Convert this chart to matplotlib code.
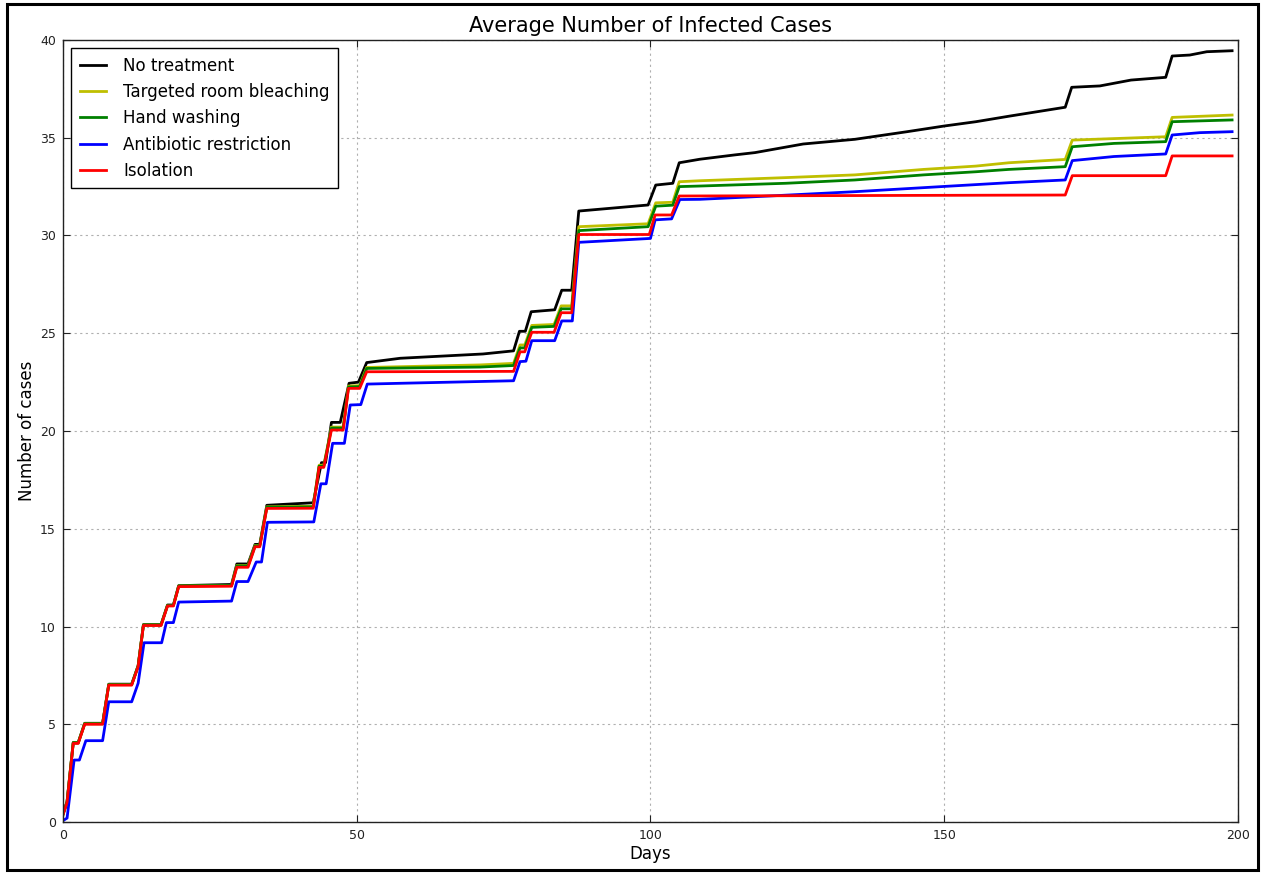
import matplotlib
matplotlib.use("Agg")
import matplotlib.pyplot as plt
from matplotlib.patches import Rectangle

# values (day, average infected cases)
black_days = [0, 0.7, 1.75, 2.6, 3.7, 6.75, 7.8, 11.7, 12.8, 13.7, 16.7, 17.8, 18.8, 19.7, 28.7,
              29.6, 31.5, 32.7, 33.5, 34.7, 42.6, 44.0, 44.7, 45.7, 47.2, 48.7, 50.3, 51.7, 57.4,
              71.5, 76.7, 77.7, 78.7, 79.7, 83.7, 84.9, 86.6, 87.8, 99.6, 100.9, 103.8, 104.9,
              108.4, 114.3, 117.8, 126, 134.8, 143.7, 150, 155.4, 161.2, 170.6, 171.7, 176.5,
              181.8, 187.7, 188.8, 191.8, 194.7, 199]
black_vals = [0.4, 1.05, 4.07, 4.07, 5.05, 5.05, 7.05, 7.05, 8.0, 10.1, 10.1, 11.1, 11.1, 12.09, 12.15,
              13.2, 13.2, 14.2, 14.2, 16.2, 16.33, 18.38, 18.38, 20.44, 20.44, 22.44, 22.5, 23.5, 23.72,
              23.94, 24.1, 25.1, 25.1, 26.1, 26.2, 27.2, 27.2, 31.25, 31.56, 32.58, 32.67, 33.72,
              33.9, 34.12, 34.24, 34.68, 34.92, 35.31, 35.6, 35.82, 36.11, 36.56, 37.58, 37.65,
              37.95, 38.09, 39.18, 39.23, 39.4, 39.45]

yellow_days = [0, 0.7, 1.75, 2.6, 3.7, 6.75, 7.8, 11.7, 12.8, 13.7, 16.7, 17.8, 18.8, 19.7, 28.7,
               29.6, 31.5, 32.7, 33.5, 34.7, 42.6, 43.6, 44.4, 45.7, 47.7, 48.6, 50.5, 51.7, 71,
               76.7, 77.8, 78.6, 79.8, 83.6, 84.8, 86.6, 87.8, 99.6, 100.9, 103.8, 104.9, 108.4,
               123, 134.8, 146.5, 155.4, 161, 170.6, 171.8, 187.7, 188.8, 199]
yellow_vals = [0.38, 1.03, 4.05, 4.05, 5.03, 5.03, 7.03, 7.03, 7.98, 10.08, 10.08, 11.08, 11.08, 12.07, 12.1,
               13.12, 13.12, 14.15, 14.15, 16.12, 16.15, 18.25, 18.25, 20.2, 20.2, 22.3, 22.32, 23.25, 23.38,
               23.46, 24.4, 24.4, 25.4, 25.45, 26.4, 26.4, 30.45, 30.6, 31.67, 31.7, 32.75, 32.8,
               32.96, 33.1, 33.38, 33.55, 33.72, 33.89, 34.88, 35.05, 36.04, 36.16]

green_days = [0, 0.7, 1.75, 2.6, 3.7, 6.75, 7.8, 11.7, 12.8, 13.7, 16.7, 17.8, 18.8, 19.7, 28.7,
              29.6, 31.5, 32.7, 33.5, 34.7, 42.6, 43.6, 44.4, 45.7, 47.7, 48.6, 50.5, 51.7, 71,
              76.7, 77.8, 78.6, 79.8, 83.6, 84.8, 86.6, 87.8, 99.6, 100.9, 103.8, 104.9, 108.4,
              123, 134.8, 146.5, 155.4, 161, 170.6, 171.8, 178.9, 187.7, 188.8, 199]
green_vals = [0.38, 1.03, 4.05, 4.05, 5.03, 5.03, 7.03, 7.03, 7.98, 10.08, 10.08, 11.08, 11.08, 12.07, 12.1,
              13.1, 13.1, 14.13, 14.13, 16.1, 16.12, 18.2, 18.2, 20.15, 20.15, 22.25, 22.27, 23.2, 23.27,
              23.35, 24.25, 24.25, 25.3, 25.35, 26.25, 26.25, 30.25, 30.45, 31.5, 31.55, 32.5, 32.53,
              32.67, 32.84, 33.1, 33.26, 33.38, 33.52, 34.54, 34.71, 34.8, 35.82, 35.91]

blue_days = [0, 0.7, 1.9, 2.8, 3.9, 6.75, 7.8, 11.7, 12.8, 13.8, 16.8, 17.6, 18.8, 19.7, 28.7,
             29.6, 31.5, 32.9, 33.8, 34.8, 42.7, 43.9, 44.8, 45.9, 47.9, 48.9, 50.7, 51.8, 57.4,
             76.7, 77.8, 78.8, 79.8, 83.7, 84.9, 86.7, 87.8, 100, 100.8, 103.6, 105, 108.4,
             120.2, 134.8, 149.5, 161, 170.6, 171.8, 178.9, 187.7, 188.8, 193.5, 199]
blue_vals = [0.07, 0.2, 3.17, 3.17, 4.16, 4.16, 6.15, 6.15, 7.1, 9.17, 9.17, 10.2, 10.2, 11.25, 11.3,
             12.3, 12.3, 13.3, 13.3, 15.33, 15.35, 17.3, 17.3, 19.37, 19.37, 21.33, 21.35, 22.4, 22.44,
             22.57, 23.55, 23.57, 24.62, 24.62, 25.63, 25.63, 29.65, 29.85, 30.8, 30.85, 31.84, 31.85,
             32.02, 32.24, 32.5, 32.7, 32.84, 33.83, 34.04, 34.17, 35.14, 35.26, 35.31]

red_days = [0, 0.7, 1.75, 2.6, 3.7, 6.75, 7.8, 11.7, 12.8, 13.7, 16.7, 17.8, 18.8, 19.7, 28.7,
            29.6, 31.5, 32.7, 33.5, 34.7, 42.6, 43.6, 44.4, 45.7, 47.7, 48.6, 50.5, 51.7, 76.7,
            77.8, 78.6, 79.8, 83.6, 84.8, 86.6, 87.8, 99.8, 100.8, 103.6, 104.9, 170.6, 171.8,
            187.7, 188.8, 199]
red_vals = [0.36, 1.0, 4.02, 4.02, 5.0, 5.0, 7.0, 7.0, 7.95, 10.05, 10.05, 11.05, 11.05, 12.04, 12.06,
            13.03, 13.03, 14.08, 14.08, 16.04, 16.05, 18.14, 18.14, 20.05, 20.05, 22.18, 22.18, 23.03, 23.05,
            24.05, 24.05, 25.05, 25.05, 26.05, 26.05, 30.05, 30.05, 31.05, 31.05, 32.02, 32.07, 33.06,
            33.06, 34.07, 34.07]

labels = ["No treatment", "Targeted room bleaching", "Hand washing",
          "Antibiotic restriction", "Isolation"]
x_ticks = [0, 50, 100, 150, 200]
y_ticks = [0, 5, 10, 15, 20, 25, 30, 35, 40]

plt.rcParams['font.family'] = ['DejaVu Sans']

fig = plt.figure(figsize=(12.64, 8.73), dpi=100, facecolor='white')
ax = fig.add_axes([0.0498, 0.0584, 0.9296, 0.8958])

ax.plot(black_days, black_vals, color='k', lw=2, label=labels[0])
ax.plot(yellow_days, yellow_vals, color='#bfbf00', lw=2, label=labels[1])
ax.plot(green_days, green_vals, color='#008000', lw=2, label=labels[2])
ax.plot(blue_days, blue_vals, color='#0000ff', lw=2, label=labels[3])
ax.plot(red_days, red_vals, color='#ff0000', lw=2, label=labels[4])

ax.set_xlim(0, 200)
ax.set_ylim(0, 40)
ax.set_xticks(x_ticks)
ax.set_yticks(y_ticks)
ax.tick_params(direction='in', top=True, right=True, length=5, width=0.8,
               labelsize=9, pad=5, colors='#222222')
ax.grid(True, color='#b0b0b0', linestyle=(0, (2, 3)), linewidth=0.8)
for s in ax.spines.values():
    s.set_linewidth(1.0)
    s.set_color('#222222')

ax.set_title("Average Number of Infected Cases", fontsize=15, pad=6)
ax.set_xlabel("Days", fontsize=12, labelpad=2)
ax.set_ylabel("Number of cases", fontsize=12, labelpad=3)

leg = ax.legend(loc='upper left', fontsize=12, fancybox=False, framealpha=1,
                edgecolor='k', handlelength=1.6, handletextpad=1.0,
                labelspacing=0.5, borderpad=0.5)
leg.get_frame().set_linewidth(1.0)

# outer frame of the screenshot
fig.patches.append(Rectangle((0.0055, 0.0034), 0.9898, 0.992, transform=fig.transFigure,
                             fill=False, edgecolor='k', linewidth=2.2))

fig.savefig("out.png", dpi=100, facecolor='white')
